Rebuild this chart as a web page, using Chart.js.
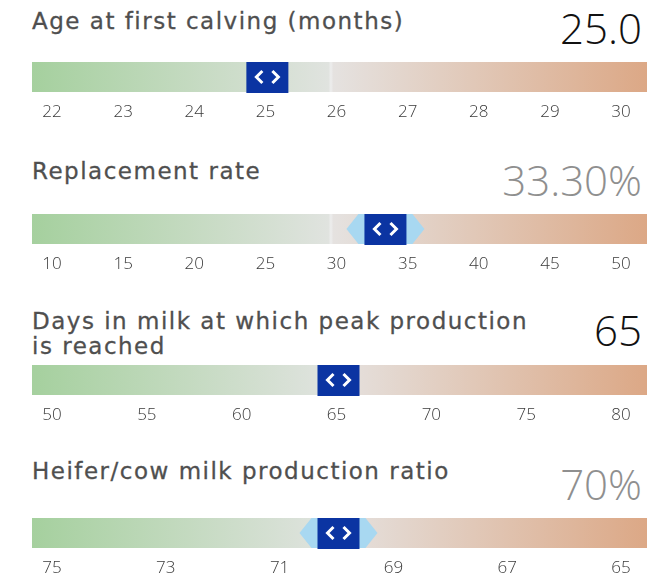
<!DOCTYPE html>
<html>
<head>
<meta charset="utf-8">
<script src="https://cdn.jsdelivr.net/npm/chart.js@4/dist/chart.umd.min.js"></script>
<style>
    body { margin: 0; background: #ffffff; width: 661px; height: 576px; overflow: hidden; position: relative; }
    .title { position: absolute; left: 32px; font: 400 23px "DejaVu Sans", sans-serif; color: #4f4f4f; line-height: 25px; white-space: pre; letter-spacing: 1.5px; -webkit-text-stroke: 0.3px #4f4f4f; }
    .value { position: absolute; right: 19px; font: 300 42px "Open Sans", sans-serif; line-height: 48px; }
    canvas { position: absolute; left: 0; }
</style>
</head>
<body>
<script>
const panelTitles = ['Age at first calving (months)', 'Replacement rate', 'Days in milk at which peak production\nis reached', 'Heifer/cow milk production ratio'];
const valueLabels = ['25.0', '33.30%', '65', '70%'];
const values = [25.0, 33.3, 65, 70];
const ageTicks = [22, 23, 24, 25, 26, 27, 28, 29, 30];
const replacementTicks = [10, 15, 20, 25, 30, 35, 40, 45, 50];
const peakDayTicks = [50, 55, 60, 65, 70, 75, 80];
const ratioTicks = [75, 73, 71, 69, 67, 65];

const tickSets = [ageTicks, replacementTicks, peakDayTicks, ratioTicks];
const editable = [false, true, false, true];

const titleTops = [9, 159, 309, 459];
const valueTops = [4, 156, 306, 460];
const barTops = [62, 214, 365, 518];
const valueColors = ['#111111', '#8f8f8f', '#111111', '#8f8f8f'];

const handlePlugin = {
    id: 'handle',
    afterDatasetsDraw(chart, args, opts) {
        const ctx = chart.ctx;
        const bar = chart.getDatasetMeta(0).data[0];
        const x = chart.scales.x.getPixelForValue(opts.value) + 2;
        const top = bar.y - bar.height / 2;
        const bottom = bar.y + bar.height / 2;
        const mid = bar.y;
        ctx.save();
        if (opts.wings) {
            ctx.fillStyle = '#a8d8f1';
            ctx.beginPath();
            ctx.moveTo(x - 39, mid);
            ctx.lineTo(x - 27, top);
            ctx.lineTo(x + 27, top);
            ctx.lineTo(x + 39, mid);
            ctx.lineTo(x + 27, bottom);
            ctx.lineTo(x - 27, bottom);
            ctx.closePath();
            ctx.fill();
        }
        ctx.fillStyle = '#0b34a2';
        ctx.fillRect(x - 21, top, 42, bottom - top + 1);
        ctx.strokeStyle = '#ffffff';
        ctx.lineWidth = 3;
        ctx.lineJoin = 'miter';
        ctx.beginPath();
        ctx.moveTo(x - 5, mid - 6);
        ctx.lineTo(x - 11, mid);
        ctx.lineTo(x - 5, mid + 6);
        ctx.moveTo(x + 5, mid - 6);
        ctx.lineTo(x + 11, mid);
        ctx.lineTo(x + 5, mid + 6);
        ctx.stroke();
        ctx.restore();
    },
};

function barGradient(context) {
    const area = context.chart.chartArea;
    if (!area) {
        return '#e4e4e4';
    }
    const g = context.chart.ctx.createLinearGradient(area.left, 0, area.right, 0);
    g.addColorStop(0, '#a5d09e');
    g.addColorStop(0.482, '#e0e3df');
    g.addColorStop(0.486, '#ededed');
    g.addColorStop(0.49, '#e5e2e0');
    g.addColorStop(1, '#dca886');
    return g;
}

function buildPanel(i) {
    const title = document.createElement('div');
    title.className = 'title';
    title.style.top = titleTops[i] + 'px';
    title.textContent = panelTitles[i];
    document.body.appendChild(title);

    const val = document.createElement('div');
    val.className = 'value';
    val.style.top = valueTops[i] + 'px';
    val.style.color = valueColors[i];
    val.textContent = valueLabels[i];
    document.body.appendChild(val);

    const canvas = document.createElement('canvas');
    canvas.width = 661;
    canvas.height = 60;
    canvas.style.top = barTops[i] + 'px';
    document.body.appendChild(canvas);

    const ticks = tickSets[i];
    const reversed = ticks[0] > ticks[ticks.length - 1];
    const lo = Math.min(...ticks);
    const hi = Math.max(...ticks);
    const unit = (hi - lo) / 569;
    const padLeft = 20 * unit;
    const padRight = 26 * unit;
    const min = reversed ? lo - padRight : lo - padLeft;
    const max = reversed ? hi + padLeft : hi + padRight;

    new Chart(canvas, {
        type: 'bar',
        data: {
            labels: [''],
            datasets: [
                {
                    data: [[min, max]],
                    backgroundColor: barGradient,
                    borderWidth: 0,
                    borderSkipped: false,
                    barPercentage: 1,
                    categoryPercentage: 1,
                },
            ],
        },
        options: {
            indexAxis: 'y',
            responsive: false,
            animation: false,
            layout: { padding: { left: 32, right: 14, top: 0, bottom: 0 } },
            plugins: {
                legend: { display: false },
                tooltip: { enabled: false },
                handle: { value: values[i], wings: editable[i] },
            },
            scales: {
                x: {
                    type: 'linear',
                    min,
                    max,
                    reverse: reversed,
                    border: { display: false },
                    grid: { display: false, drawTicks: false },
                    afterBuildTicks: (scale) => {
                        scale.ticks = ticks.map((v) => ({ value: v }));
                    },
                    ticks: {
                        autoSkip: false,
                        maxRotation: 0,
                        padding: 10,
                        color: '#3a3a3a',
                        font: { family: 'Open Sans', size: 17, weight: 300 },
                    },
                },
                y: { display: false },
            },
        },
        plugins: [handlePlugin],
    });
}

for (let i = 0; i < 4; i++) {
    buildPanel(i);
}
</script>
</body>
</html>
